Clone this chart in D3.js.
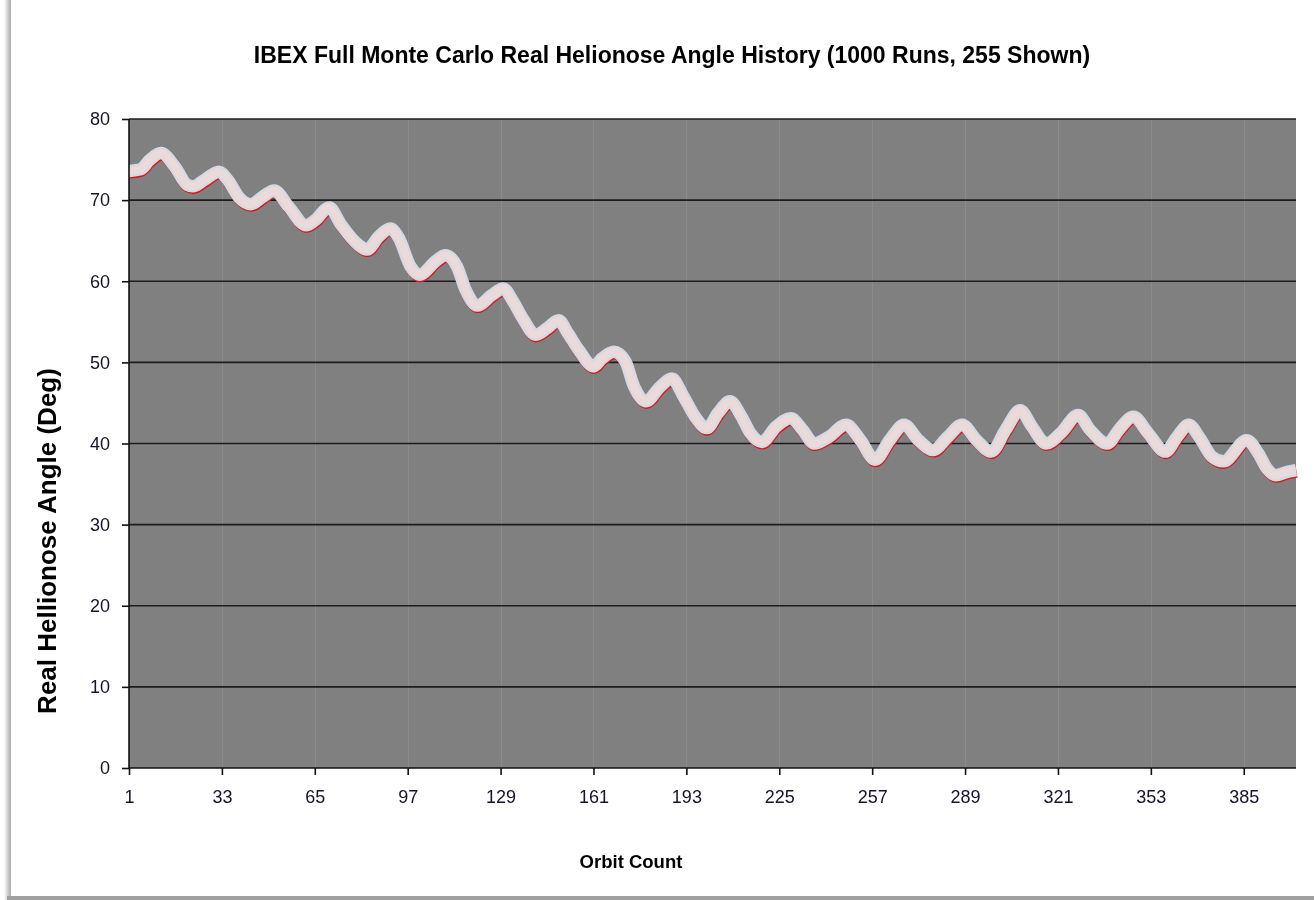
<!DOCTYPE html>
<head>
  <meta charset="utf-8">
  <script src="https://d3js.org/d3.v7.min.js"></script>
  <style>
    body {
      margin:0;position:fixed;top:0;right:0;bottom:0;left:0;
      font-family: "Liberation Sans", Arial, sans-serif;
      background: white;
    }
    .tick text { fill: #14142a; }
  </style>
</head>

<body>
  <script>
    // mean of the run bundle
    var orbits = [1, 5, 8, 12, 17, 21, 23, 27, 32, 35, 39, 43, 47, 51, 56, 62, 65, 70, 74, 80,
      83, 87, 91, 94, 98, 101, 107, 110, 114, 117, 121, 126, 130, 133, 137, 141, 145, 149, 152, 156,
      161, 164, 168, 172, 175, 179, 184, 188, 192, 196, 200, 204, 208, 212, 215, 219, 224, 229, 233, 237,
      242, 248, 253, 258, 263, 268, 273, 278, 283, 288, 293, 298, 303, 308, 312, 317, 322, 328, 332, 338,
      342, 347, 352, 358, 362, 366, 370, 374, 378, 386, 390, 393, 396, 400, 403];
    var angles = [73.6, 73.8, 74.9, 75.8, 74.0, 71.9, 71.7, 72.5, 73.5, 72.5, 70.3, 69.5, 70.4, 71.2, 69.2, 66.9, 67.5, 69.1, 67.0, 64.5,
      63.9, 65.5, 66.5, 65.3, 61.8, 60.8, 62.6, 63.2, 61.8, 58.9, 57.0, 58.3, 59.1, 57.7, 55.2, 53.4, 54.2, 55.2, 53.7, 51.5,
      49.5, 50.5, 51.3, 50.1, 47.0, 45.2, 47.0, 48.0, 45.8, 43.3, 41.9, 43.8, 45.2, 43.3, 41.3, 40.2, 42.1, 43.1, 41.7, 40.0,
      40.8, 42.3, 40.4, 38.0, 40.4, 42.3, 40.4, 39.2, 40.8, 42.3, 40.4, 39.0, 41.7, 44.1, 42.1, 40.0, 41.3, 43.5, 41.7, 40.0,
      41.7, 43.3, 41.3, 39.0, 40.8, 42.3, 40.6, 38.4, 37.8, 40.4, 38.8, 36.9, 36.1, 36.5, 36.7];
    var xTicks = [1, 33, 65, 97, 129, 161, 193, 225, 257, 289, 321, 353, 385];
    var yTicks = [0, 10, 20, 30, 40, 50, 60, 70, 80];

    var data = orbits.map(function(o, i) { return {orbit: o, angle: angles[i]}; });

    var svg = d3.select("body").append("svg")
      .attr("width", 1314)
      .attr("height", 900);

    // card edges (shadow)
    var grad = svg.append("defs").append("linearGradient").attr("id", "lshadow");
    grad.append("stop").attr("offset", "0%").attr("stop-color", "#ffffff");
    grad.append("stop").attr("offset", "100%").attr("stop-color", "#a8a8a8");
    svg.append("rect").attr("x", 4).attr("y", 0).attr("width", 7).attr("height", 900).style("fill", "url(#lshadow)");
    svg.append("rect").attr("x", 7).attr("y", 896).attr("width", 1307).attr("height", 4).style("fill", "#a0a0a0");

    var x = d3.scaleLinear().domain([1, 403]).range([129, 1296]);
    var y = d3.scaleLinear().domain([0, 80]).range([768, 119]);

    svg.append("rect")
      .attr("x", x(1)).attr("y", y(80))
      .attr("width", x(403) - x(1)).attr("height", y(0) - y(80))
      .style("fill", "#808080");

    // vertical grid
    svg.selectAll(".vgrid").data(xTicks.slice(1)).enter().append("line")
      .attr("class", "vgrid")
      .attr("x1", function(d) { return Math.round(x(d)) + 0.5; })
      .attr("x2", function(d) { return Math.round(x(d)) + 0.5; })
      .attr("y1", y(80)).attr("y2", y(0))
      .style("stroke", "#8c8c8c").style("stroke-width", 1);

    // horizontal grid
    svg.selectAll(".hgrid").data(yTicks.slice(1)).enter().append("line")
      .attr("class", "hgrid")
      .attr("x1", x(1)).attr("x2", x(403))
      .attr("y1", function(d) { return y(d); })
      .attr("y2", function(d) { return y(d); })
      .style("stroke", "#1c1c1c").style("stroke-width", 1.6);

    var line = d3.line()
      .x(function(d) { return x(d.orbit); })
      .y(function(d) { return y(d.angle); })
      .curve(d3.curveMonotoneX);

    var band = svg.append("g");
    band.append("path").datum(data)
      .attr("d", line)
      .attr("transform", "translate(0.6,1.6)")
      .style("fill", "none").style("stroke", "#d81818").style("stroke-width", 12)
      .style("stroke-linejoin", "round");
    band.append("path").datum(data)
      .attr("d", line)
      .style("fill", "none").style("stroke", "#d4d9e6").style("stroke-width", 12.5)
      .style("stroke-linejoin", "round");
    band.append("path").datum(data)
      .attr("d", line)
      .style("fill", "none").style("stroke", "#eadada").style("stroke-width", 8)
      .style("stroke-linejoin", "round");

    var xAxis = d3.axisBottom(x).tickValues(xTicks).tickSize(7).tickPadding(15).tickFormat(d3.format("d"));
    var yAxis = d3.axisLeft(y).tickValues(yTicks).tickSize(7).tickPadding(12);

    svg.append("g")
      .attr("transform", "translate(0," + y(0) + ")")
      .call(xAxis)
      .call(function(g) {
        g.select(".domain").attr("d", "M" + x(1) + ",0H" + x(403)).style("stroke", "#111").style("stroke-width", 1.6);
        g.selectAll(".tick line").style("stroke", "#111").style("stroke-width", 1.6);
        g.selectAll(".tick text").style("font-size", "18px").style("font-family", "Liberation Sans, Arial, sans-serif");
      });

    svg.append("g")
      .attr("transform", "translate(" + x(1) + ",0)")
      .call(yAxis)
      .call(function(g) {
        g.select(".domain").attr("d", "M0," + y(80) + "V" + y(0)).style("stroke", "#111").style("stroke-width", 1.6);
        g.selectAll(".tick line").style("stroke", "#111").style("stroke-width", 1.6);
        g.selectAll(".tick text").style("font-size", "18px").style("font-family", "Liberation Sans, Arial, sans-serif");
      });

    svg.append("text")
      .attr("x", 672).attr("y", 63)
      .attr("text-anchor", "middle")
      .style("font-weight", "bold").style("font-size", "23px")
      .text("IBEX Full Monte Carlo Real Helionose Angle History (1000 Runs, 255 Shown)");

    svg.append("text")
      .attr("transform", "translate(56,541) rotate(-90)")
      .attr("text-anchor", "middle")
      .style("font-weight", "bold").style("font-size", "26px")
      .text("Real Hellionose Angle (Deg)");

    svg.append("text")
      .attr("x", 631).attr("y", 868)
      .attr("text-anchor", "middle")
      .style("font-weight", "bold").style("font-size", "18.5px")
      .text("Orbit Count");
  </script>
</body>
